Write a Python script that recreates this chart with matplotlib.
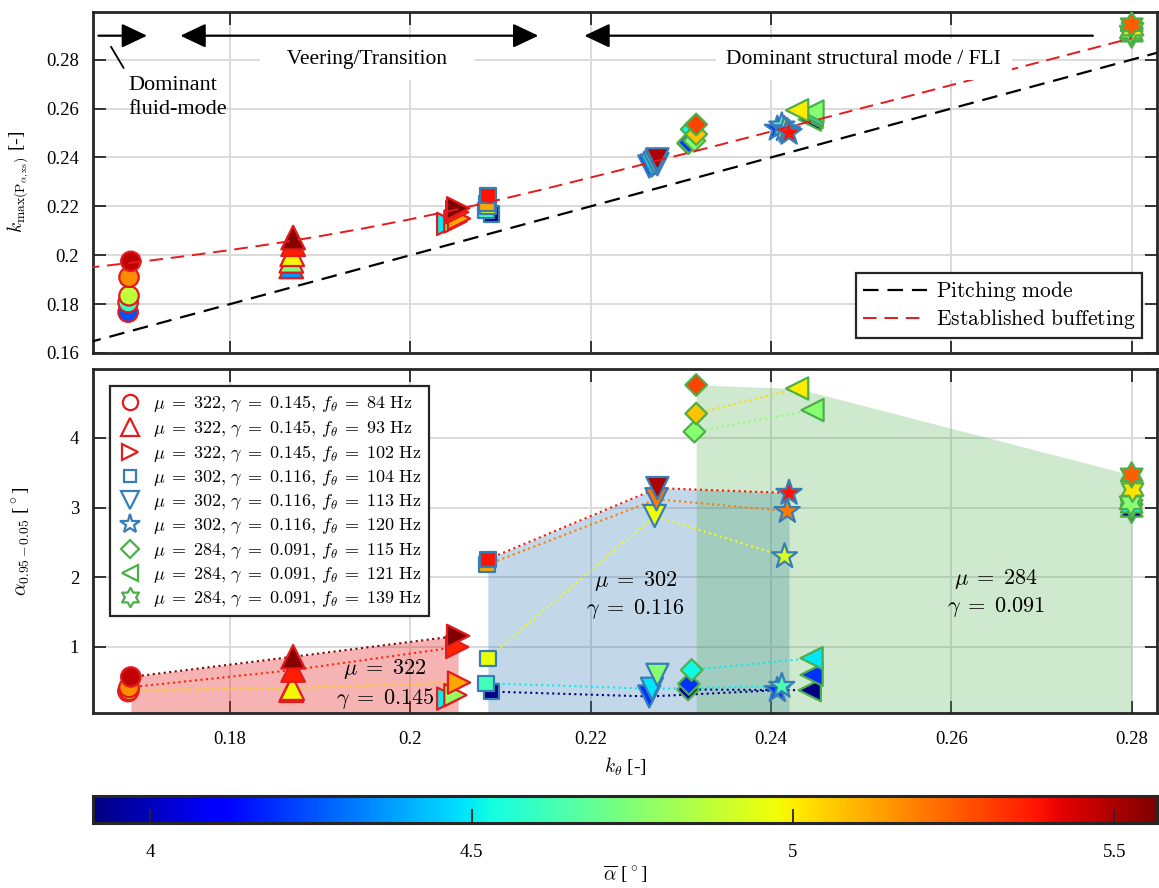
import numpy as np
import matplotlib
matplotlib.use("Agg")
import matplotlib.pyplot as plt
from matplotlib.lines import Line2D
from matplotlib.colors import Normalize
from matplotlib.path import Path

nan = np.nan

# =========================
# Runs per configuration
# =========================
# abar   : mean angle of attack [deg] (colour)
# ktheta : reduced pitch frequency k_theta [-]
# kmax   : reduced frequency of the spectral peak [-]
# arange : alpha_0.95 - alpha_0.05 [deg]

# mu = 322, gamma = 0.145
F84_ABAR = [4.25, 4.60, 4.87, 5.17, 5.47]
F84_KTHETA = [0.1687, 0.1687, 0.1688, 0.1688, 0.1690]
F84_KMAX = [0.1767, 0.1806, 0.1834, 0.1910, 0.1975]
F84_ARANGE = [0.36, 0.37, 0.38, 0.42, 0.57]

F93_ABAR = [4.36, 4.75, 4.98, 5.36, 5.55]
F93_KTHETA = [0.1868, 0.1868, 0.1869, 0.1870, 0.1870]
F93_KMAX = [0.1954, 0.1977, 0.2004, 0.2045, 0.2072]
F93_ARANGE = [0.38, 0.39, 0.41, 0.67, 0.86]

F102_ABAR = [4.50, 4.78, 5.12, 5.35, 5.566]
F102_KTHETA = [0.2042, 0.2050, 0.2054, 0.2052, 0.2053]
F102_KMAX = [0.2128, 0.2138, 0.2150, 0.2176, 0.2192]
F102_ARANGE = [0.26, 0.31, 0.49, 1.00, 1.16]

# mu = 302, gamma = 0.116
F104_ABAR = [3.911, 4.62, nan, 4.96, 5.12, 5.38]
F104_KTHETA = [0.2090, 0.2084, nan, 0.2086, 0.2085, 0.2086]
F104_KMAX = [0.2168, 0.2182, nan, 0.2200, 0.2212, 0.2245]
F104_ARANGE = [0.36, 0.48, nan, 0.84, 2.18, 2.26]

F113_ABAR = [4.20, 4.49, 4.76, 4.97, 5.20, 5.50]
F113_KTHETA = [0.2265, 0.2268, 0.2274, 0.2271, 0.2273, 0.2274]
F113_KMAX = [0.2363, 0.2367, 0.2372, 0.2376, 0.2384, 0.2392]
F113_ARANGE = [0.29, 0.40, 0.60, 2.88, 3.12, 3.28]

F120_ABAR = [4.20, 4.64, nan, 4.93, 5.20, 5.38]
F120_KTHETA = [0.2407, 0.2412, nan, 0.2415, 0.2418, 0.2420]
F120_KMAX = [0.2517, 0.2530, nan, 0.2515, 0.2508, 0.2500]
F120_ARANGE = [0.38, 0.44, nan, 2.30, 2.95, 3.21]

# mu = 284, gamma = 0.091
F115_ABAR = [3.95, 4.20, 4.52, 4.76, 5.07, 5.30]
F115_KTHETA = [0.2308, 0.2309, 0.2312, 0.2315, 0.2317, 0.2317]
F115_KMAX = [0.2458, 0.2461, 0.2515, 0.2468, 0.2495, 0.2535]
F115_ARANGE = [0.39, 0.47, 0.67, 4.09, 4.35, 4.76]

F121_ABAR = [3.93, 4.20, 4.49, 4.76, 5.00, nan]
F121_KTHETA = [0.2443, 0.2445, 0.2445, 0.2446, 0.2429, nan]
F121_KMAX = [0.2555, 0.2565, 0.2575, 0.2588, 0.2593, nan]
F121_ARANGE = [0.38, 0.60, 0.84, 4.40, 4.71, nan]

F139_ABAR = [3.95, nan, 4.55, 4.76, 5.02, 5.25]
F139_KTHETA = [0.2800, nan, 0.2800, 0.2799, 0.2801, 0.2800]
F139_KMAX = [0.2900, nan, 0.2905, 0.2913, 0.2925, 0.2943]
F139_ARANGE = [2.96, nan, 3.02, 3.07, 3.26, 3.47]

# mean angle used to colour the dotted line joining run i (nan = no line)
LINKS_322 = [nan, nan, 5.05, 5.35, 5.566]
LINKS_302 = [3.911, 4.50, nan, 4.97, 5.20, 5.38]
LINKS_284 = [3.93, nan, 4.50, 4.76, 5.03, nan]

# reference curves
PITCH_K = [0.164, 0.284]
BUFFET_KTHETA = [0.164, 0.165, 0.170, 0.175, 0.180, 0.185, 0.190, 0.195, 0.200,
                 0.205, 0.210, 0.215, 0.220, 0.225, 0.230, 0.235, 0.240, 0.245,
                 0.250, 0.255, 0.260, 0.265, 0.270, 0.275, 0.280]
BUFFET_K = [0.1948, 0.1952, 0.1973, 0.1996, 0.2021, 0.2048, 0.2078, 0.2111, 0.2147,
            0.2186, 0.2228, 0.2272, 0.2318, 0.2364, 0.2411, 0.2458, 0.2506, 0.2553,
            0.2601, 0.2648, 0.2696, 0.2744, 0.2792, 0.2840, 0.2888]

X_TICKS = [0.18, 0.2, 0.22, 0.24, 0.26, 0.28]
TOP_Y_TICKS = [0.16, 0.18, 0.2, 0.22, 0.24, 0.26, 0.28]
BOT_Y_TICKS = [1, 2, 3, 4]
CBAR_TICKS = [4, 4.5, 5, 5.5]

GROUP_COLORS = {322: "#e41a1c", 302: "#377eb8", 284: "#4daf4a"}
HEXAGRAM = Path.unit_regular_star(6, 0.577)

CONFIGS = [
    dict(mu=322, gamma=0.145, f=84, marker="o", ms=14, leg_ms=11,
         abar=F84_ABAR, kth=F84_KTHETA, kmax=F84_KMAX, arange=F84_ARANGE),
    dict(mu=322, gamma=0.145, f=93, marker="^", ms=17, leg_ms=13,
         abar=F93_ABAR, kth=F93_KTHETA, kmax=F93_KMAX, arange=F93_ARANGE),
    dict(mu=322, gamma=0.145, f=102, marker=">", ms=16, leg_ms=12,
         abar=F102_ABAR, kth=F102_KTHETA, kmax=F102_KMAX, arange=F102_ARANGE),
    dict(mu=302, gamma=0.116, f=104, marker="s", ms=11, leg_ms=9,
         abar=F104_ABAR, kth=F104_KTHETA, kmax=F104_KMAX, arange=F104_ARANGE),
    dict(mu=302, gamma=0.116, f=113, marker="v", ms=16, leg_ms=13,
         abar=F113_ABAR, kth=F113_KTHETA, kmax=F113_KMAX, arange=F113_ARANGE),
    dict(mu=302, gamma=0.116, f=120, marker="*", ms=19, leg_ms=15,
         abar=F120_ABAR, kth=F120_KTHETA, kmax=F120_KMAX, arange=F120_ARANGE),
    dict(mu=284, gamma=0.091, f=115, marker="D", ms=11, leg_ms=9,
         abar=F115_ABAR, kth=F115_KTHETA, kmax=F115_KMAX, arange=F115_ARANGE),
    dict(mu=284, gamma=0.091, f=121, marker="<", ms=16, leg_ms=12,
         abar=F121_ABAR, kth=F121_KTHETA, kmax=F121_KMAX, arange=F121_ARANGE),
    dict(mu=284, gamma=0.091, f=139, marker=HEXAGRAM, ms=18, leg_ms=14,
         abar=F139_ABAR, kth=F139_KTHETA, kmax=F139_KMAX, arange=F139_ARANGE),
]

GROUPS = [
    dict(mu=322, gamma=0.145, links=LINKS_322, linked=[84, 93, 102],
         text_xy=(0.1972, 0.47), fill_alpha=0.33),
    dict(mu=302, gamma=0.116, links=LINKS_302, linked=[104, 113, 120],
         text_xy=(0.2250, 1.75), fill_alpha=0.30),
    dict(mu=284, gamma=0.091, links=LINKS_284, linked=[115, 121],
         text_xy=(0.2650, 1.78), fill_alpha=0.27),
]

# =========================
# Style
# =========================
plt.rcParams["font.family"] = "serif"
plt.rcParams["font.serif"] = ["Liberation Serif", "DejaVu Serif"]
plt.rcParams["mathtext.fontset"] = "cm"

SPINE = "#262626"
TICK_FS = 13.5

# LaTeX-like spacing around relations in mathtext
EQ = r"\;=\;"

all_abar = np.concatenate([np.asarray(c["abar"], float) for c in CONFIGS])
norm = Normalize(vmin=np.nanmin(all_abar), vmax=np.nanmax(all_abar))
cmap = plt.get_cmap("jet")


def style_axes(ax):
    ax.grid(True, color="#dadada", linewidth=1.4)
    ax.set_axisbelow(True)
    ax.tick_params(which="both", direction="in", top=True, right=True,
                   length=9, width=1.3, color=SPINE, labelsize=TICK_FS)
    ax.tick_params(axis="x", pad=13)
    ax.tick_params(axis="y", pad=10)
    for sp in ax.spines.values():
        sp.set_linewidth(2.0)
        sp.set_color(SPINE)
    ax.set_xlim(0.1648, 0.2828)
    ax.set_xticks(X_TICKS, [f"{v:g}" for v in X_TICKS])


def valid(c):
    a = np.asarray(c["abar"], float)
    return ~np.isnan(a)


fig = plt.figure(figsize=(11.59, 8.88), dpi=100)
ax_top = fig.add_axes([0.0802, 0.6025, 0.9180, 0.3840])
ax_bot = fig.add_axes([0.0802, 0.1974, 0.9180, 0.3871])
cax = fig.add_axes([0.0802, 0.0735, 0.9180, 0.0301])

# =========================
# Top: spectral peak frequency
# =========================
style_axes(ax_top)
ax_top.set_ylim(0.16, 0.2995)
ax_top.set_yticks(TOP_Y_TICKS, [f"{v:g}" for v in TOP_Y_TICKS])
ax_top.tick_params(axis="x", labelbottom=False)

for c in CONFIGS:
    m = valid(c)
    ax_top.scatter(np.asarray(c["kth"])[m], np.asarray(c["kmax"])[m],
                   c=np.asarray(c["abar"])[m], cmap=cmap, norm=norm,
                   marker=c["marker"], s=c["ms"] ** 2,
                   edgecolors=GROUP_COLORS[c["mu"]], linewidths=1.6, zorder=3)

pitch_line, = ax_top.plot(PITCH_K, PITCH_K, color="k", lw=1.6,
                          dashes=(7, 4), zorder=4)
buffet_line, = ax_top.plot(BUFFET_KTHETA, BUFFET_K, color="#e41a1c", lw=1.4,
                           dashes=(7, 4), zorder=4)

leg_top = ax_top.legend([pitch_line, buffet_line],
                        [r"$\mathrm{Pitching\ mode}$",
                         r"$\mathrm{Established\ buffeting}$"],
                        loc="lower right", fontsize=15.5, frameon=True,
                        fancybox=False, framealpha=1, edgecolor=SPINE,
                        handlelength=3.0, handletextpad=0.4,
                        borderaxespad=0.7, borderpad=0.3, labelspacing=0.2)
leg_top.get_frame().set_linewidth(1.6)

# regime arrows along the top of the panel
ARROW_Y = 0.2898
head = "head_length=0.78,head_width=0.37"
arrow_kw = dict(color="k", lw=1.6, mutation_scale=20, shrinkA=0, shrinkB=0)
ax_top.annotate("", xy=(0.1708, ARROW_Y), xytext=(0.1654, ARROW_Y),
                arrowprops=dict(arrowstyle="-|>," + head, **arrow_kw), zorder=6)
ax_top.annotate("", xy=(0.2142, ARROW_Y), xytext=(0.1745, ARROW_Y),
                arrowprops=dict(arrowstyle="<|-|>," + head, **arrow_kw), zorder=6)
ax_top.annotate("", xy=(0.2193, ARROW_Y), xytext=(0.2757, ARROW_Y),
                arrowprops=dict(arrowstyle="-|>," + head, **arrow_kw), zorder=6)

box = dict(boxstyle="square,pad=0.5", facecolor="white", edgecolor="none")
ax_top.text(0.1952, 0.2800, "   Veering/Transition   ", ha="center",
            va="center", fontsize=15.5, bbox=box, zorder=5)
ax_top.text(0.2503, 0.2800, "Dominant structural mode / FLI", ha="center",
            va="center", fontsize=15.5, bbox=box, zorder=5)
ax_top.annotate("Dominant\nfluid-mode", xy=(0.1668, 0.2853),
                xytext=(0.1687, 0.2735), ha="left", va="top", fontsize=16,
                linespacing=1.4,
                arrowprops=dict(arrowstyle="-", color="k", lw=1.3,
                                relpos=(0, 1), shrinkA=4, shrinkB=0))

ax_top.set_ylabel(r"$k_{\max(\mathrm{P}_{\alpha,\mathrm{xs}})}$ [-]", fontsize=14)
ax_top.yaxis.set_label_coords(-0.057, 0.5)

# =========================
# Bottom: oscillation amplitude
# =========================
style_axes(ax_bot)
ax_bot.set_ylim(0.057, 4.99)
ax_bot.set_yticks(BOT_Y_TICKS, [f"{v:g}" for v in BOT_Y_TICKS])

by_freq = {c["f"]: c for c in CONFIGS}
for g in GROUPS:
    col = GROUP_COLORS[g["mu"]]
    cfgs = [c for c in CONFIGS if c["mu"] == g["mu"]]

    # envelope through the largest amplitude of each frequency
    env_x, env_y = [], []
    for c in cfgs:
        i = int(np.nanargmax(np.asarray(c["arange"], float)))
        env_x.append(c["kth"][i])
        env_y.append(c["arange"][i])
    ax_bot.fill_between(env_x, env_y, 0, color=col, alpha=g["fill_alpha"],
                        linewidth=0, zorder=1)

    # dotted lines between runs at a similar mean angle
    for i, a_link in enumerate(g["links"]):
        if np.isnan(a_link):
            continue
        xs, ys = [], []
        for f in g["linked"]:
            c = by_freq[f]
            if not np.isnan(c["arange"][i]):
                xs.append(c["kth"][i])
                ys.append(c["arange"][i])
        ax_bot.plot(xs, ys, ls=":", lw=1.5, color=cmap(norm(a_link)), zorder=2)

    ax_bot.text(*g["text_xy"], rf"$\mu{EQ}{g['mu']}$" + "\n" +
                rf"$\gamma{EQ}{g['gamma']:.3f}$", ha="center", va="center",
                fontsize=16, linespacing=1.25, zorder=5)

for c in CONFIGS:
    m = valid(c)
    ax_bot.scatter(np.asarray(c["kth"])[m], np.asarray(c["arange"])[m],
                   c=np.asarray(c["abar"])[m], cmap=cmap, norm=norm,
                   marker=c["marker"], s=c["ms"] ** 2,
                   edgecolors=GROUP_COLORS[c["mu"]], linewidths=1.6, zorder=3)

handles, labels = [], []
for c in CONFIGS:
    handles.append(Line2D([], [], ls="none", marker=c["marker"], ms=c["leg_ms"],
                          mfc="none", mec=GROUP_COLORS[c["mu"]], mew=1.6))
    labels.append(rf"$\mu{EQ}{c['mu']},\,\gamma{EQ}{c['gamma']:.3f},\,"
                  rf"f_\theta{EQ}{c['f']}\ \mathrm{{Hz}}$")
leg_bot = ax_bot.legend(handles, labels, loc="upper left", fontsize=13,
                        frameon=True, fancybox=False, framealpha=1,
                        edgecolor=SPINE, handlelength=1.4, handletextpad=0.6,
                        borderaxespad=0.95, borderpad=0.4, labelspacing=0.22)
leg_bot.get_frame().set_linewidth(1.6)
leg_bot.set_zorder(6)

ax_bot.set_xlabel(r"$k_\theta$ [-]", fontsize=14, labelpad=6)
ax_bot.set_ylabel(r"$\alpha_{0.95-0.05}$ [$^\circ$]", fontsize=14)
ax_bot.yaxis.set_label_coords(-0.057, 0.5)

# =========================
# Colour bar (mean angle)
# =========================
sm = plt.cm.ScalarMappable(norm=norm, cmap=cmap)
cb = fig.colorbar(sm, cax=cax, orientation="horizontal")
cb.set_ticks(CBAR_TICKS, labels=[f"{v:g}" for v in CBAR_TICKS])
cax.tick_params(direction="in", length=10, width=1.3, color=SPINE,
                labelsize=TICK_FS, pad=15)
cb.outline.set_linewidth(2.2)
cb.outline.set_edgecolor(SPINE)
cb.set_label(r"$\overline{\alpha}$ [$^\circ$]", fontsize=14, labelpad=2)

fig.savefig("out.png", dpi=100)
